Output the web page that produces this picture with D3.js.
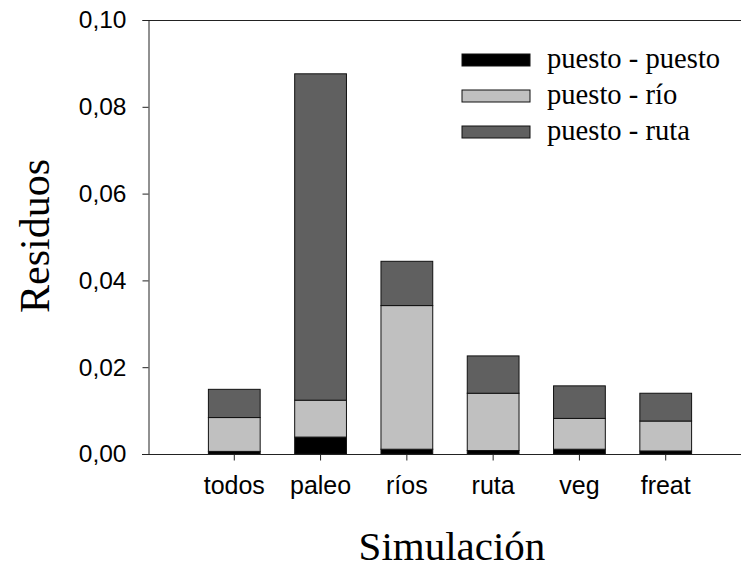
<!DOCTYPE html>
<html>
<head>
<meta charset="utf-8">
<script src="https://cdn.jsdelivr.net/npm/d3@7"></script>
<style>
  body { margin: 0; background: #fff; }
  svg { display: block; }
</style>
</head>
<body>
<svg id="chart" width="741" height="569"></svg>
<script>
// categories along the x axis
const categories = ['todos', 'paleo', 'ríos', 'ruta', 'veg', 'freat'];
// stacked series (bottom to top)
const seriesNames = ['puesto - puesto', 'puesto - río', 'puesto - ruta'];
const puestoPuesto = [0.0006, 0.0039, 0.0011, 0.0008, 0.0011, 0.0007];
const puestoRio    = [0.0078, 0.0085, 0.0331, 0.0132, 0.0071, 0.0069];
const puestoRuta   = [0.0065, 0.0752, 0.0102, 0.0086, 0.0075, 0.0064];
const yTicks = [0, 0.02, 0.04, 0.06, 0.08, 0.10];

const colors = ['#000000', '#c0c0c0', '#606060'];

const rows = categories.map((c, i) => ({
  cat: c,
  'puesto - puesto': puestoPuesto[i],
  'puesto - río': puestoRio[i],
  'puesto - ruta': puestoRuta[i]
}));

const svg = d3.select('#chart');

const x = d3.scaleBand()
  .domain(categories)
  .range([148, 752])
  .paddingInner(0.4)
  .paddingOuter(0.7);

const y = d3.scaleLinear()
  .domain([0, 0.10])
  .range([454, 20]);

const color = d3.scaleOrdinal().domain(seriesNames).range(colors);

const stacked = d3.stack().keys(seriesNames)(rows);

// bars
svg.append('g')
  .selectAll('g')
  .data(stacked)
  .join('g')
    .attr('fill', d => color(d.key))
  .selectAll('rect')
  .data(d => d)
  .join('rect')
    .attr('x', d => x(d.data.cat))
    .attr('y', d => y(d[1]))
    .attr('width', x.bandwidth())
    .attr('height', d => y(d[0]) - y(d[1]))
    .attr('stroke', '#111')
    .attr('stroke-width', 1);

// top frame line
svg.append('line')
  .attr('x1', 148).attr('x2', 741)
  .attr('y1', 20.5).attr('y2', 20.5)
  .attr('stroke', '#222');

// y axis
const yAxis = svg.append('g')
  .attr('transform', 'translate(148.5,0)')
  .call(d3.axisLeft(y).tickValues(yTicks).tickSize(6).tickPadding(16)
    .tickFormat(d => d3.format('.2f')(d).replace('.', ',')));
yAxis.select('.domain').attr('stroke', '#222');
yAxis.selectAll('.tick line').attr('stroke', '#222');
yAxis.selectAll('text')
  .attr('font-family', '"Liberation Sans", Arial, sans-serif')
  .attr('font-size', 24.5)
  .attr('fill', '#000');

// x axis
const xAxis = svg.append('g')
  .attr('transform', 'translate(0,454.5)')
  .call(d3.axisBottom(x).tickSize(6).tickPadding(16).tickSizeOuter(0));
xAxis.select('.domain').attr('stroke', '#222').attr('d', 'M142,0H741');
xAxis.selectAll('.tick line').attr('stroke', '#222');
xAxis.selectAll('text')
  .attr('font-family', '"Liberation Sans", Arial, sans-serif')
  .attr('font-size', 25)
  .attr('fill', '#000');

// axis titles
svg.append('text')
  .attr('x', 452).attr('y', 560)
  .attr('text-anchor', 'middle')
  .attr('font-family', '"Liberation Serif", "Times New Roman", serif')
  .attr('font-size', 41)
  .text('Simulación');

svg.append('text')
  .attr('transform', 'translate(49,236) rotate(-90)')
  .attr('text-anchor', 'middle')
  .attr('font-family', '"Liberation Serif", "Times New Roman", serif')
  .attr('font-size', 42)
  .text('Residuos');

// legend
const legend = svg.append('g').attr('transform', 'translate(462,54)');
const item = legend.selectAll('g')
  .data(seriesNames)
  .join('g')
    .attr('transform', (d, i) => `translate(0,${i * 36})`);
item.append('rect')
  .attr('width', 68).attr('height', 12)
  .attr('fill', d => color(d))
  .attr('stroke', '#111');
item.append('text')
  .attr('x', 85).attr('y', 14)
  .attr('font-family', '"Liberation Serif", "Times New Roman", serif')
  .attr('font-size', 28.6)
  .text(d => d);
</script>
</body>
</html>
